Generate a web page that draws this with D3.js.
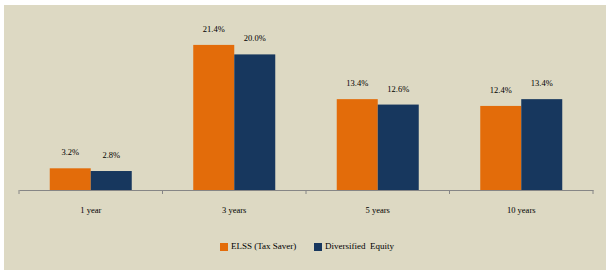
<!DOCTYPE html>
<html>
<head>
<meta charset="utf-8">
<script src="https://cdn.jsdelivr.net/npm/d3@7"></script>
<style>
  body { margin: 0; background: #fff; }
  svg text { font-family: "Liberation Serif", "DejaVu Serif", serif; fill: #000; }
</style>
</head>
<body>
<div id="chart"></div>
<script>
// data
const categories = ['1 year', '3 years', '5 years', '10 years'];
const seriesNames = ['ELSS (Tax Saver)', 'Diversified  Equity'];
const elss = [3.2, 21.4, 13.4, 12.4];
const diversified = [2.8, 20.0, 12.6, 13.4];
const colors = ['#E36C0A', '#17375E'];

const W = 611, H = 275;
const svg = d3.select('#chart').append('svg')
  .attr('width', W).attr('height', H);

// background panel
svg.append('rect')
  .attr('x', 4).attr('y', 5).attr('width', 602).attr('height', 265)
  .attr('fill', '#DDD9C3');

const plot = { left: 19, right: 593, top: 20, bottom: 190 };

const x = d3.scaleBand().domain(categories).range([plot.left, plot.right]).paddingInner(0).paddingOuter(0);
const x1 = d3.scaleBand().domain([0, 1]).range([0, x.bandwidth()]).paddingOuter(0.75).paddingInner(0);
const y = d3.scaleLinear().domain([0, 25]).range([plot.bottom, plot.bottom - 25 * 6.78]);

const rows = categories.map((c, i) => ({ cat: c, vals: [elss[i], diversified[i]] }));

const g = svg.append('g');
const groups = g.selectAll('g.grp').data(rows).enter().append('g')
  .attr('transform', d => `translate(${x(d.cat)},0)`);

groups.selectAll('rect').data(d => d.vals.map((v, k) => ({ v, k }))).enter().append('rect')
  .attr('x', d => x1(d.k))
  .attr('width', x1.bandwidth())
  .attr('y', d => y(d.v))
  .attr('height', d => y(0) - y(d.v))
  .attr('fill', d => colors[d.k]);

groups.selectAll('text.lbl').data(d => d.vals.map((v, k) => ({ v, k }))).enter().append('text')
  .attr('class', 'lbl')
  .attr('x', d => x1(d.k) + x1.bandwidth() / 2)
  .attr('y', d => y(d.v) - 13)
  .attr('text-anchor', 'middle')
  .style('font-size', '8.5px')
  .text(d => d.v.toFixed(1) + '%');

// category axis
const axis = d3.axisBottom(x).tickSize(0).tickPadding(17);
const ax = svg.append('g').attr('transform', `translate(0,${plot.bottom})`).call(axis);
ax.select('.domain').attr('stroke', '#868686').attr('stroke-width', 1);
ax.selectAll('text').style('font-size', '8.5px').style('font-family', '"Liberation Serif", "DejaVu Serif", serif');
ax.selectAll('.boundary').data(d3.range(categories.length + 1)).enter().append('line')
  .attr('x1', i => plot.left + i * x.bandwidth())
  .attr('x2', i => plot.left + i * x.bandwidth())
  .attr('y1', 0).attr('y2', 4)
  .attr('stroke', '#868686');

// legend
const legendX = [220, 314];
const leg = svg.append('g');
seriesNames.forEach((name, k) => {
  leg.append('rect').attr('x', legendX[k]).attr('y', 243).attr('width', 8).attr('height', 8).attr('fill', colors[k]);
  leg.append('text').attr('x', legendX[k] + 11).attr('y', 249)
    .style('font-size', '9px').style('white-space', 'pre').attr('xml:space', 'preserve').text(name);
});
</script>
</body>
</html>
